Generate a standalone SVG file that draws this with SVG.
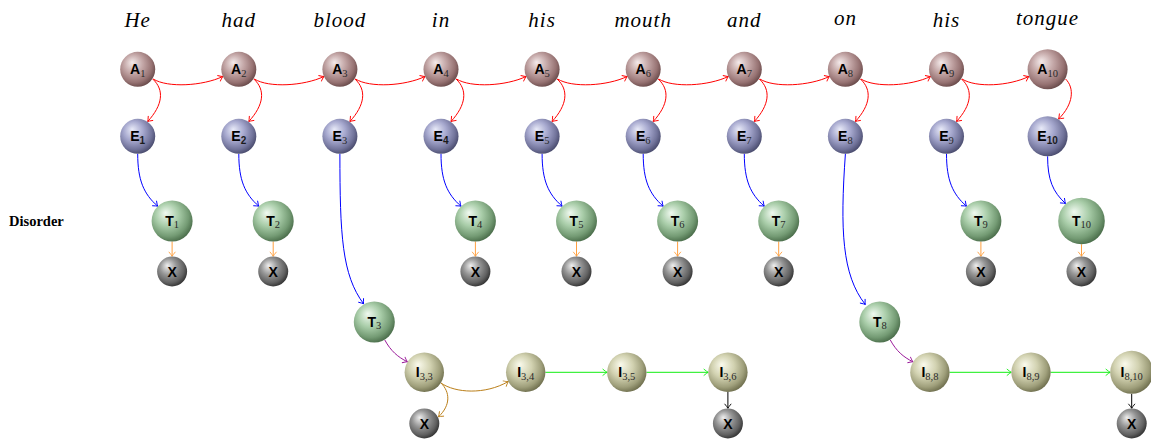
<svg xmlns="http://www.w3.org/2000/svg" width="1151" height="441" viewBox="0 0 1151 441">
<style>
.w{font-family:"Liberation Serif",serif;font-style:italic;font-size:21px;letter-spacing:1px;fill:#000;text-anchor:middle}
.lab{font-family:"Liberation Serif",serif;font-weight:bold;font-size:14.5px;fill:#000}
.nl{font-family:"Liberation Sans",Arial,sans-serif;font-weight:bold;font-size:14px;fill:#000;text-anchor:middle}
.sb{font-family:"Liberation Serif",serif;font-weight:normal;font-size:10.5px;fill:#2a2a2a}
.sbb{font-family:"Liberation Sans",Arial,sans-serif;font-weight:bold;font-size:10px;fill:#1a1a1a}
.c{fill:none;stroke-width:1}
.red{stroke:#ff0000;marker-end:url(#mr)}
.blue{stroke:#0000ff;marker-end:url(#mb)}
.org{stroke:#ffa040;marker-end:url(#mo)}
.pur{stroke:#9a1a9a;marker-end:url(#mp)}
.brn{stroke:#bb7f1a;marker-end:url(#mn)}
.grn{stroke:#11ee11;marker-end:url(#mg)}
.blk{stroke:#000;marker-end:url(#mk)}
.A{fill:url(#gA)}.E{fill:url(#gE)}.T{fill:url(#gT)}.I{fill:url(#gI)}.X{fill:url(#gX)}
</style>
<defs>
<radialGradient id="gA" cx="0.42" cy="0.4" r="0.62" fx="0.34" fy="0.3"><stop offset="0" stop-color="#f4eaea"/><stop offset="0.45" stop-color="#c2a5a5"/><stop offset="0.8" stop-color="#977373"/><stop offset="1" stop-color="#6a4b4b"/></radialGradient>
<radialGradient id="gE" cx="0.42" cy="0.4" r="0.62" fx="0.34" fy="0.3"><stop offset="0" stop-color="#e8eaf8"/><stop offset="0.45" stop-color="#a6a8ce"/><stop offset="0.8" stop-color="#72749b"/><stop offset="1" stop-color="#4a4c6e"/></radialGradient>
<radialGradient id="gT" cx="0.42" cy="0.4" r="0.62" fx="0.34" fy="0.3"><stop offset="0" stop-color="#f0f9f0"/><stop offset="0.45" stop-color="#a9cda9"/><stop offset="0.8" stop-color="#749b74"/><stop offset="1" stop-color="#4b6e4b"/></radialGradient>
<radialGradient id="gI" cx="0.42" cy="0.4" r="0.62" fx="0.34" fy="0.3"><stop offset="0" stop-color="#fafaec"/><stop offset="0.45" stop-color="#d2d2b1"/><stop offset="0.8" stop-color="#9f9f7b"/><stop offset="1" stop-color="#70704f"/></radialGradient>
<radialGradient id="gX" cx="0.42" cy="0.4" r="0.62" fx="0.34" fy="0.3"><stop offset="0" stop-color="#eeeeee"/><stop offset="0.45" stop-color="#959595"/><stop offset="0.8" stop-color="#616161"/><stop offset="1" stop-color="#333"/></radialGradient>
<marker id="mr" markerUnits="userSpaceOnUse" orient="auto" markerWidth="10" markerHeight="10" viewBox="-6 -5 8 10" refX="0" refY="0" overflow="visible"><path d="M-4.5,-3.3 Q-1.2,-0.6 0,0 Q-1.2,0.6 -4.5,3.3" fill="none" stroke="#ff0000" stroke-width="0.9"/></marker>
<marker id="mb" markerUnits="userSpaceOnUse" orient="auto" markerWidth="10" markerHeight="10" viewBox="-6 -5 8 10" refX="0" refY="0" overflow="visible"><path d="M-4.5,-3.3 Q-1.2,-0.6 0,0 Q-1.2,0.6 -4.5,3.3" fill="none" stroke="#0000ff" stroke-width="0.9"/></marker>
<marker id="mo" markerUnits="userSpaceOnUse" orient="auto" markerWidth="10" markerHeight="10" viewBox="-6 -5 8 10" refX="0" refY="0" overflow="visible"><path d="M-4.5,-3.3 Q-1.2,-0.6 0,0 Q-1.2,0.6 -4.5,3.3" fill="none" stroke="#ffa040" stroke-width="0.9"/></marker>
<marker id="mp" markerUnits="userSpaceOnUse" orient="auto" markerWidth="10" markerHeight="10" viewBox="-6 -5 8 10" refX="0" refY="0" overflow="visible"><path d="M-4.5,-3.3 Q-1.2,-0.6 0,0 Q-1.2,0.6 -4.5,3.3" fill="none" stroke="#9a1a9a" stroke-width="0.9"/></marker>
<marker id="mn" markerUnits="userSpaceOnUse" orient="auto" markerWidth="10" markerHeight="10" viewBox="-6 -5 8 10" refX="0" refY="0" overflow="visible"><path d="M-4.5,-3.3 Q-1.2,-0.6 0,0 Q-1.2,0.6 -4.5,3.3" fill="none" stroke="#bb7f1a" stroke-width="0.9"/></marker>
<marker id="mg" markerUnits="userSpaceOnUse" orient="auto" markerWidth="10" markerHeight="10" viewBox="-6 -5 8 10" refX="0" refY="0" overflow="visible"><path d="M-4.5,-3.3 Q-1.2,-0.6 0,0 Q-1.2,0.6 -4.5,3.3" fill="none" stroke="#11ee11" stroke-width="0.9"/></marker>
<marker id="mk" markerUnits="userSpaceOnUse" orient="auto" markerWidth="10" markerHeight="10" viewBox="-6 -5 8 10" refX="0" refY="0" overflow="visible"><path d="M-4.5,-3.3 Q-1.2,-0.6 0,0 Q-1.2,0.6 -4.5,3.3" fill="none" stroke="#000" stroke-width="0.9"/></marker>
</defs>
<rect width="1151" height="441" fill="#fff"/>

<g id="words">
<text class="w" x="137.7" y="27">He</text>
<text class="w" x="238.8" y="27">had</text>
<text class="w" x="339.9" y="27">blood</text>
<text class="w" x="441" y="27">in</text>
<text class="w" x="542.1" y="27">his</text>
<text class="w" x="643.2" y="27">mouth</text>
<text class="w" x="744.3" y="27">and</text>
<text class="w" x="845.4" y="24.5">on</text>
<text class="w" x="946.5" y="27">his</text>
<text class="w" x="1047.6" y="24.5">tongue</text>
</g>
<text class="lab" x="9" y="226">Disorder</text>

<g id="connectors">
<path class="c red" d="M153.2,79 C167.7,88 202.7,86 222.8,76.5"/>
<path class="c red" d="M254.3,79 C268.8,88 303.8,86 323.9,76.5"/>
<path class="c red" d="M355.4,79 C369.9,88 404.9,86 425,76.5"/>
<path class="c red" d="M456.5,79 C471,88 506,86 526.1,76.5"/>
<path class="c red" d="M557.6,79 C572.1,88 607.1,86 627.2,76.5"/>
<path class="c red" d="M658.7,79 C673.2,88 708.2,86 728.3,76.5"/>
<path class="c red" d="M759.8,79 C774.3,88 809.3,86 829.4,76.5"/>
<path class="c red" d="M860.9,79 C875.4,88 910.4,86 930.5,76.5"/>
<path class="c red" d="M962,79 C976.5,88 1009,86 1028.8,76.5"/>
<path class="c red" d="M152.7,79 C164.7,90 162.7,105 147.7,121.5"/>
<path class="c red" d="M253.8,79 C265.8,90 263.8,105 248.8,121.5"/>
<path class="c red" d="M354.9,79 C366.9,90 364.9,105 349.9,121.5"/>
<path class="c red" d="M456,79 C468,90 466,105 451,121.5"/>
<path class="c red" d="M557.1,79 C569.1,90 567.1,105 552.1,121.5"/>
<path class="c red" d="M658.2,79 C670.2,90 668.2,105 653.2,121.5"/>
<path class="c red" d="M759.3,79 C771.3,90 769.3,105 754.3,121.5"/>
<path class="c red" d="M860.4,79 C872.4,90 870.4,105 855.4,121.5"/>
<path class="c red" d="M961.5,79 C973.5,90 971.5,105 956.5,121.5"/>
<path class="c red" d="M1065.6,79 C1074.6,88 1073.6,104 1058.6,119"/>
<path class="c blue" d="M137.7,153.8 C137.7,180 143.7,194 157.7,206.2"/>
<path class="c blue" d="M238.8,153.8 C238.8,180 244.8,194 258.8,206.2"/>
<path class="c blue" d="M441,153.8 C441,180 447,194 461,206.2"/>
<path class="c blue" d="M542.1,153.8 C542.1,180 548.1,194 562.1,206.2"/>
<path class="c blue" d="M643.2,153.8 C643.2,180 649.2,194 663.2,206.2"/>
<path class="c blue" d="M744.3,153.8 C744.3,180 750.3,194 764.3,206.2"/>
<path class="c blue" d="M946.5,153.8 C946.5,180 952.5,194 966.5,206.2"/>
<path class="c blue" d="M1047.6,156.3 C1047.6,180 1053,192 1065.5,203.5"/>
<path class="c blue" d="M339.9,153.8 C339.9,235 342,275 363.6,303.8"/>
<path class="c blue" d="M845.4,153.8 C840,230 842,275 865.3,304.5"/>
<path class="c org" d="M172.1,241.5 L172.1,256.3"/>
<path class="c org" d="M273.2,241.5 L273.2,256.3"/>
<path class="c org" d="M475.4,241.5 L475.4,256.3"/>
<path class="c org" d="M576.5,241.5 L576.5,256.3"/>
<path class="c org" d="M677.6,241.5 L677.6,256.3"/>
<path class="c org" d="M778.7,241.5 L778.7,256.3"/>
<path class="c org" d="M980.9,241.5 L980.9,256.3"/>
<path class="c org" d="M1081.5,244.3 L1081.5,256.3"/>
<path class="c pur" d="M384.8,340 C390.8,351 397.8,357 407.4,361.8"/>
<path class="c pur" d="M890.3,340 C896.3,351 903.3,357 912.9,361.8"/>
<path class="c brn" d="M441,383 C455,393 485,395 508.3,381.5"/>
<path class="c brn" d="M441,383 C450,392 451,405 438.5,416.8"/>
<path class="c grn" d="M545.4,372.3 L607.1,372.3"/>
<path class="c grn" d="M646.5,372.3 L708.2,372.3"/>
<path class="c grn" d="M949.6,372.3 L1011.3,372.3"/>
<path class="c grn" d="M1050.7,372.3 L1110.2,372.3"/>
<path class="c blk" d="M727.9,392 L727.9,408.3"/>
<path class="c blk" d="M1131.7,393.8 L1131.7,408.3"/>
</g>

<g id="A1"><circle class="A" cx="137.7" cy="69.3" r="17.5"/><text class="nl" x="137.7" y="74.3">A<tspan class="sb" dy="2.3">1</tspan></text></g>
<g id="A2"><circle class="A" cx="238.8" cy="69.3" r="17.5"/><text class="nl" x="238.8" y="74.3">A<tspan class="sb" dy="2.3">2</tspan></text></g>
<g id="A3"><circle class="A" cx="339.9" cy="69.3" r="17.5"/><text class="nl" x="339.9" y="74.3">A<tspan class="sb" dy="2.3">3</tspan></text></g>
<g id="A4"><circle class="A" cx="441" cy="69.3" r="17.5"/><text class="nl" x="441" y="74.3">A<tspan class="sb" dy="2.3">4</tspan></text></g>
<g id="A5"><circle class="A" cx="542.1" cy="69.3" r="17.5"/><text class="nl" x="542.1" y="74.3">A<tspan class="sb" dy="2.3">5</tspan></text></g>
<g id="A6"><circle class="A" cx="643.2" cy="69.3" r="17.5"/><text class="nl" x="643.2" y="74.3">A<tspan class="sb" dy="2.3">6</tspan></text></g>
<g id="A7"><circle class="A" cx="744.3" cy="69.3" r="17.5"/><text class="nl" x="744.3" y="74.3">A<tspan class="sb" dy="2.3">7</tspan></text></g>
<g id="A8"><circle class="A" cx="845.4" cy="69.3" r="17.5"/><text class="nl" x="845.4" y="74.3">A<tspan class="sb" dy="2.3">8</tspan></text></g>
<g id="A9"><circle class="A" cx="946.5" cy="69.3" r="17.5"/><text class="nl" x="946.5" y="74.3">A<tspan class="sb" dy="2.3">9</tspan></text></g>
<g id="A10"><circle class="A" cx="1047.6" cy="69.3" r="20"/><text class="nl" x="1047.6" y="74.3">A<tspan class="sb" dy="2.3">10</tspan></text></g>

<g id="E1"><circle class="E" cx="137.7" cy="136.3" r="17.5"/><text class="nl" x="137.7" y="141.3">E<tspan class="sbb" dy="2.3">1</tspan></text></g>
<g id="E2"><circle class="E" cx="238.8" cy="136.3" r="17.5"/><text class="nl" x="238.8" y="141.3">E<tspan class="sbb" dy="2.3">2</tspan></text></g>
<g id="E3"><circle class="E" cx="339.9" cy="136.3" r="17.5"/><text class="nl" x="339.9" y="141.3">E<tspan class="sb" dy="2.3">3</tspan></text></g>
<g id="E4"><circle class="E" cx="441" cy="136.3" r="17.5"/><text class="nl" x="441" y="141.3">E<tspan class="sbb" dy="2.3">4</tspan></text></g>
<g id="E5"><circle class="E" cx="542.1" cy="136.3" r="17.5"/><text class="nl" x="542.1" y="141.3">E<tspan class="sb" dy="2.3">5</tspan></text></g>
<g id="E6"><circle class="E" cx="643.2" cy="136.3" r="17.5"/><text class="nl" x="643.2" y="141.3">E<tspan class="sb" dy="2.3">6</tspan></text></g>
<g id="E7"><circle class="E" cx="744.3" cy="136.3" r="17.5"/><text class="nl" x="744.3" y="141.3">E<tspan class="sb" dy="2.3">7</tspan></text></g>
<g id="E8"><circle class="E" cx="845.4" cy="136.3" r="17.5"/><text class="nl" x="845.4" y="141.3">E<tspan class="sb" dy="2.3">8</tspan></text></g>
<g id="E9"><circle class="E" cx="946.5" cy="136.3" r="17.5"/><text class="nl" x="946.5" y="141.3">E<tspan class="sb" dy="2.3">9</tspan></text></g>
<g id="E10"><circle class="E" cx="1047.6" cy="136.3" r="20"/><text class="nl" x="1047.6" y="141.3">E<tspan class="sbb" dy="2.3">10</tspan></text></g>

<g id="T1"><circle class="T" cx="172.1" cy="221" r="20.5"/><text class="nl" x="172.1" y="226">T<tspan class="sb" dy="2.3">1</tspan></text></g>
<g id="T2"><circle class="T" cx="273.2" cy="221" r="20.5"/><text class="nl" x="273.2" y="226">T<tspan class="sb" dy="2.3">2</tspan></text></g>
<g id="T4"><circle class="T" cx="475.4" cy="221" r="20.5"/><text class="nl" x="475.4" y="226">T<tspan class="sb" dy="2.3">4</tspan></text></g>
<g id="T5"><circle class="T" cx="576.5" cy="221" r="20.5"/><text class="nl" x="576.5" y="226">T<tspan class="sb" dy="2.3">5</tspan></text></g>
<g id="T6"><circle class="T" cx="677.6" cy="221" r="20.5"/><text class="nl" x="677.6" y="226">T<tspan class="sb" dy="2.3">6</tspan></text></g>
<g id="T7"><circle class="T" cx="778.7" cy="221" r="20.5"/><text class="nl" x="778.7" y="226">T<tspan class="sb" dy="2.3">7</tspan></text></g>
<g id="T9"><circle class="T" cx="980.9" cy="221" r="20.5"/><text class="nl" x="980.9" y="226">T<tspan class="sb" dy="2.3">9</tspan></text></g>
<g id="T10"><circle class="T" cx="1081.5" cy="221" r="23.3"/><text class="nl" x="1081.5" y="226">T<tspan class="sb" dy="2.3">10</tspan></text></g>
<g id="T3"><circle class="T" cx="374.3" cy="322" r="20.5"/><text class="nl" x="374.3" y="327">T<tspan class="sb" dy="2.3">3</tspan></text></g>
<g id="T8"><circle class="T" cx="879.8" cy="322" r="20.5"/><text class="nl" x="879.8" y="327">T<tspan class="sb" dy="2.3">8</tspan></text></g>

<g id="X1"><circle class="X" cx="172.1" cy="271.5" r="15"/><text class="nl" x="172.1" y="276.6">X</text></g>
<g id="X2"><circle class="X" cx="273.2" cy="271.5" r="15"/><text class="nl" x="273.2" y="276.6">X</text></g>
<g id="X4"><circle class="X" cx="475.4" cy="271.5" r="15"/><text class="nl" x="475.4" y="276.6">X</text></g>
<g id="X5"><circle class="X" cx="576.5" cy="271.5" r="15"/><text class="nl" x="576.5" y="276.6">X</text></g>
<g id="X6"><circle class="X" cx="677.6" cy="271.5" r="15"/><text class="nl" x="677.6" y="276.6">X</text></g>
<g id="X7"><circle class="X" cx="778.7" cy="271.5" r="15"/><text class="nl" x="778.7" y="276.6">X</text></g>
<g id="X9"><circle class="X" cx="980.9" cy="271.5" r="15"/><text class="nl" x="980.9" y="276.6">X</text></g>
<g id="X10"><circle class="X" cx="1081.5" cy="271.5" r="15"/><text class="nl" x="1081.5" y="276.6">X</text></g>

<g id="I33"><circle class="I" cx="424.3" cy="372.3" r="19.7"/><text class="nl" x="424.3" y="377.3">I<tspan class="sb" dy="2.3">3,3</tspan></text></g>
<g id="I34"><circle class="I" cx="525.7" cy="372.3" r="19.7"/><text class="nl" x="525.7" y="377.3">I<tspan class="sb" dy="2.3">3,4</tspan></text></g>
<g id="I35"><circle class="I" cx="626.8" cy="372.3" r="19.7"/><text class="nl" x="626.8" y="377.3">I<tspan class="sb" dy="2.3">3,5</tspan></text></g>
<g id="I36"><circle class="I" cx="727.9" cy="372.3" r="19.7"/><text class="nl" x="727.9" y="377.3">I<tspan class="sb" dy="2.3">3,6</tspan></text></g>
<g id="I88"><circle class="I" cx="929.9" cy="372.3" r="19.7"/><text class="nl" x="929.9" y="377.3">I<tspan class="sb" dy="2.3">8,8</tspan></text></g>
<g id="I89"><circle class="I" cx="1031" cy="372.3" r="19.7"/><text class="nl" x="1031" y="377.3">I<tspan class="sb" dy="2.3">8,9</tspan></text></g>
<g id="I810"><circle class="I" cx="1131.7" cy="372.3" r="21.5"/><text class="nl" x="1131.7" y="377.3">I<tspan class="sb" dy="2.3">8,10</tspan></text></g>

<g id="X33"><circle class="X" cx="424.3" cy="423.5" r="15"/><text class="nl" x="424.3" y="428.6">X</text></g>
<g id="X36"><circle class="X" cx="727.9" cy="423.5" r="15"/><text class="nl" x="727.9" y="428.6">X</text></g>
<g id="X810"><circle class="X" cx="1131.7" cy="423.5" r="15"/><text class="nl" x="1131.7" y="428.6">X</text></g>
</svg>
